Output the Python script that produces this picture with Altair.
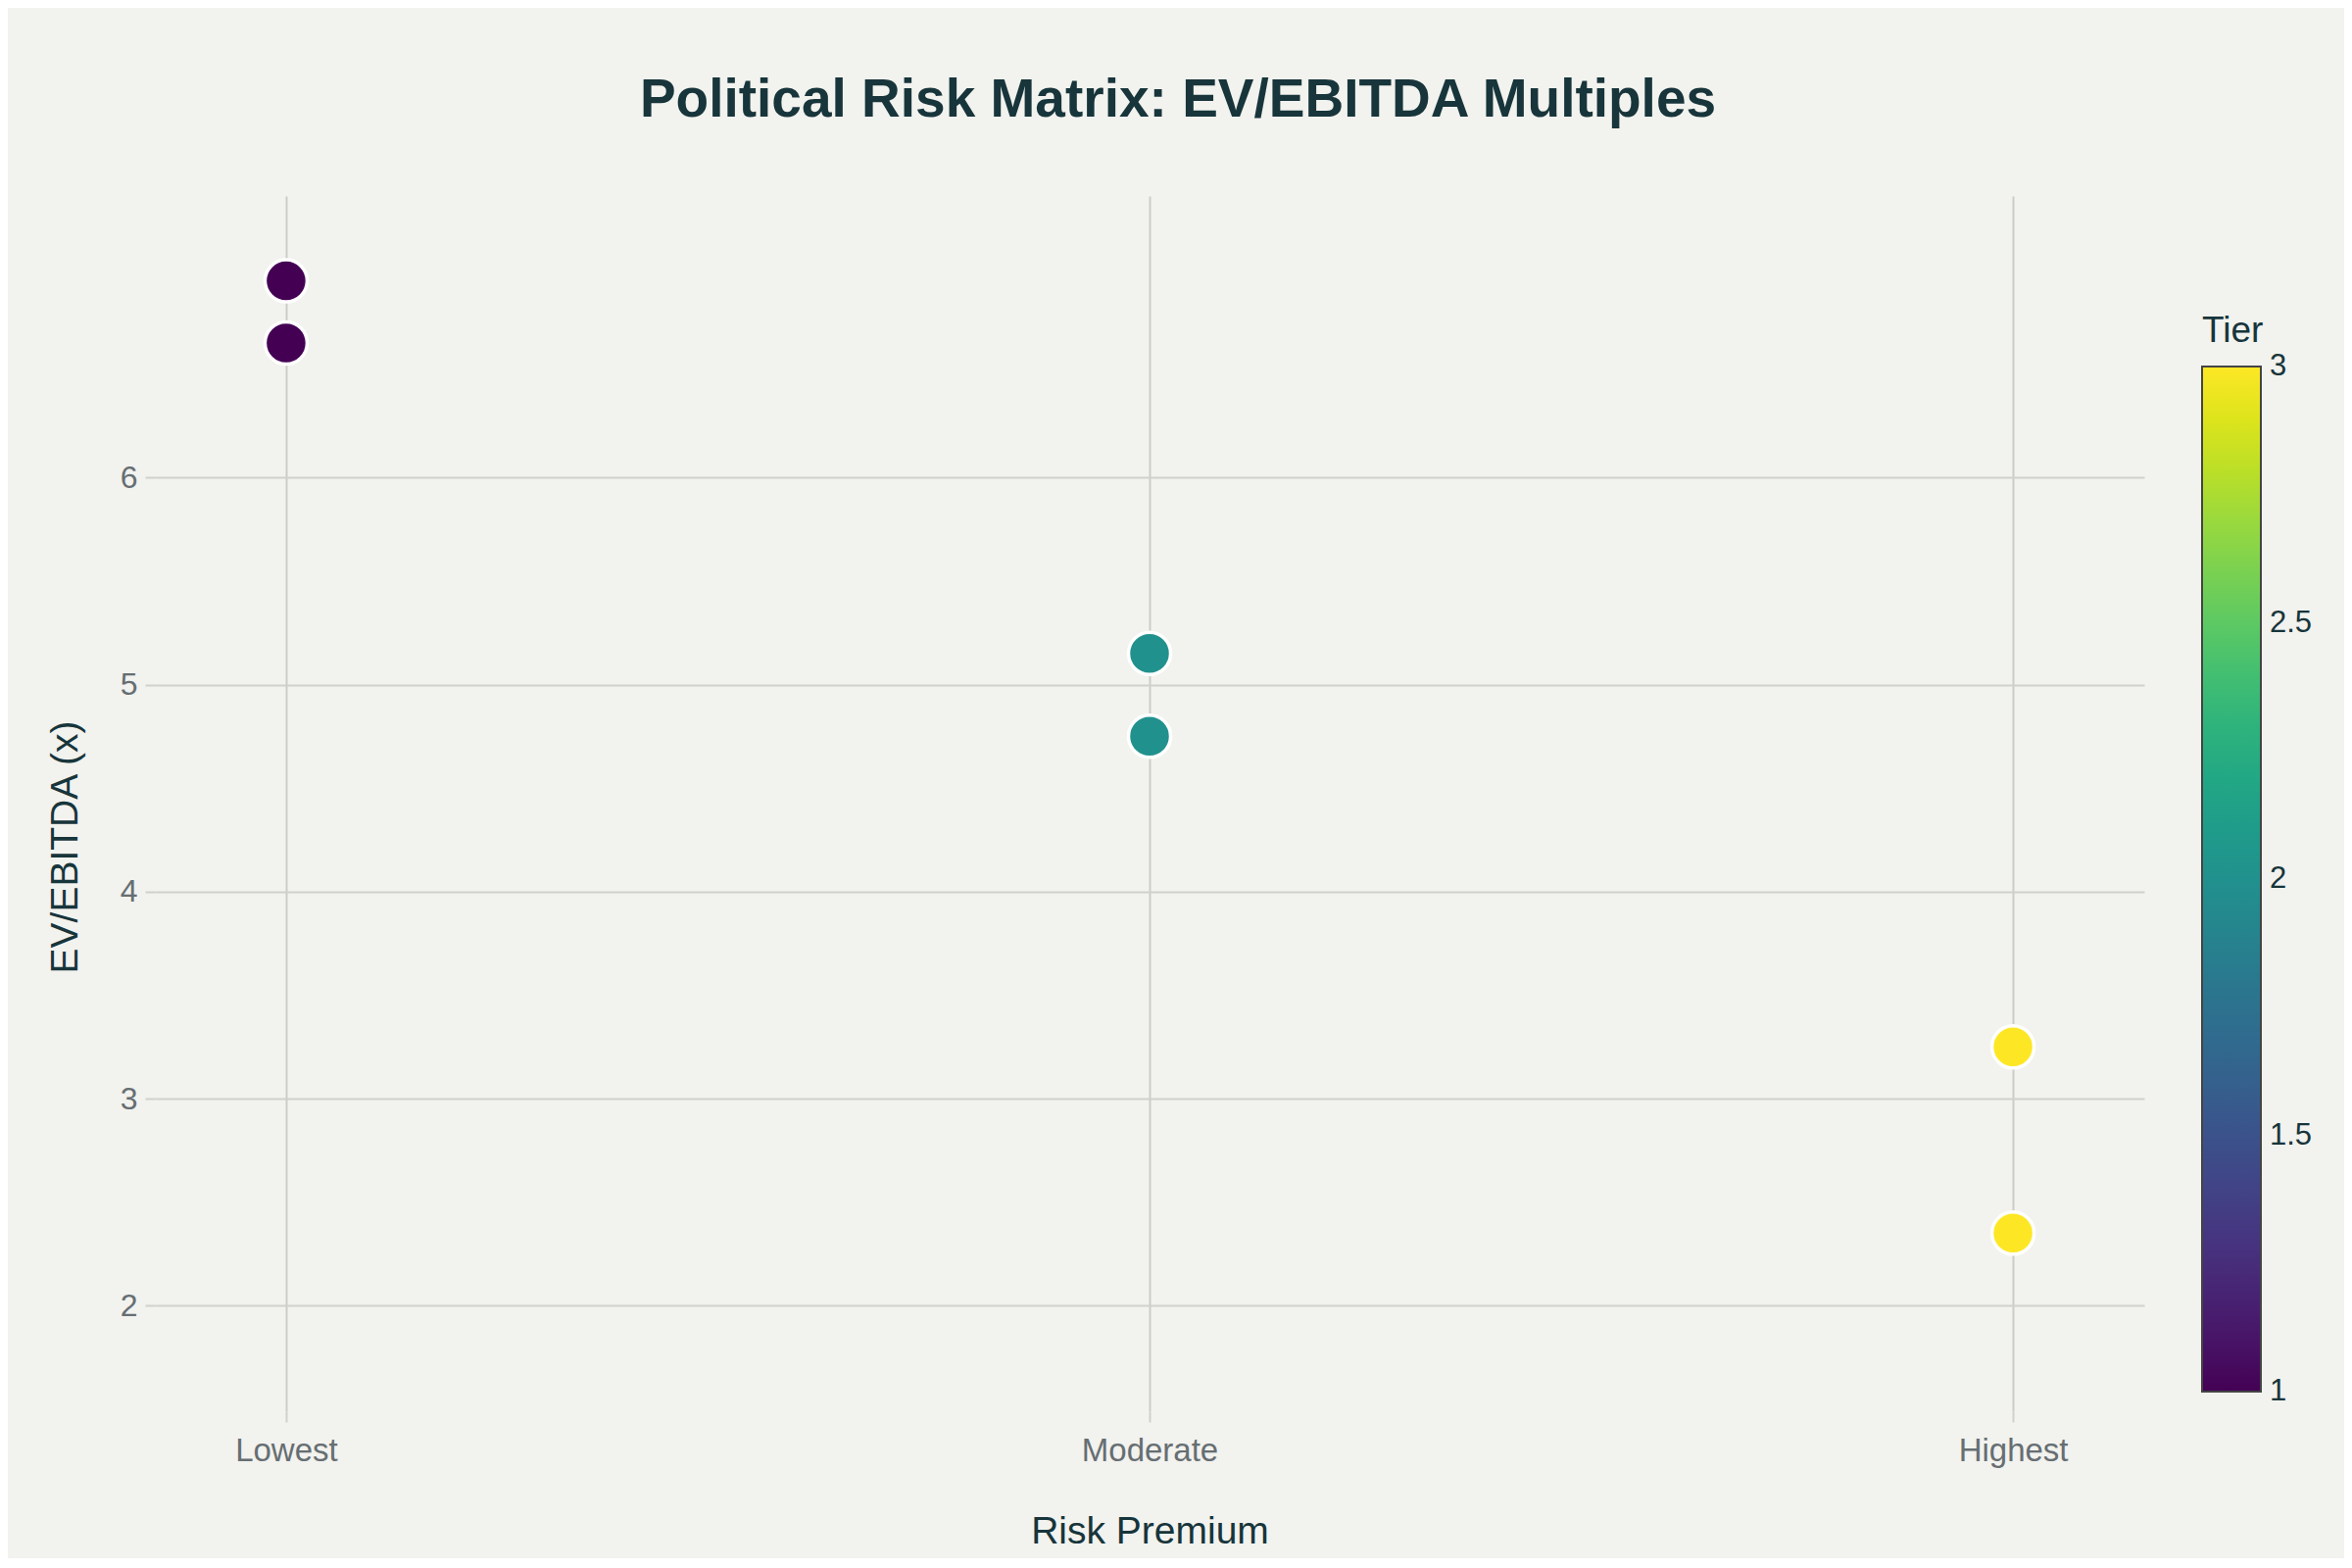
import altair as alt
import pandas as pd

# Data
risk_levels = ["Lowest", "Lowest", "Moderate", "Moderate", "Highest", "Highest"]
ev_ebitda = [6.95, 6.65, 5.15, 4.75, 3.25, 2.35]
tiers = [1, 1, 2, 2, 3, 3]
category_order = ["Lowest", "Moderate", "Highest"]
y_ticks = [2, 3, 4, 5, 6]
# end values nudged a hair inside the bar so their labels centre on the ends
tier_ticks = [1.0001, 1.5, 2, 2.5, 2.9999]

df = pd.DataFrame({"Risk Premium": risk_levels, "EV/EBITDA": ev_ebitda, "Tier": tiers})

FONT = "Liberation Sans"
DARK = "#17353b"
GREY = "#666e72"
BG = "#f2f2ee"

chart = (
    alt.Chart(df)
    .mark_circle(opacity=1, stroke="white", strokeWidth=3.5, size=1850)
    .encode(
        x=alt.X(
            "Risk Premium:N",
            sort=category_order,
            scale=alt.Scale(type="point", padding=0.152),
            axis=alt.Axis(
                title="Risk Premium",
                labelAngle=0,
                labelFont=FONT,
                labelFontSize=33,
                labelColor=GREY,
                labelPadding=13,
                tickSize=11,
                tickColor="#d0d0cc",
                tickWidth=2,
                domain=False,
                grid=True,
                gridColor="#cbcbc7",
                gridWidth=2,
                titleFont=FONT,
                titleFontSize=39,
                titleFontWeight="normal",
                titleColor=DARK,
                titleBaseline="alphabetic",
                titleY=134,
            ),
        ),
        y=alt.Y(
            "EV/EBITDA:Q",
            scale=alt.Scale(domain=[1.49, 7.36], nice=False, zero=False),
            axis=alt.Axis(
                title="EV/EBITDA (x)",
                values=y_ticks,
                labelFont=FONT,
                labelFontSize=32,
                labelColor=GREY,
                labelPadding=8,
                tickSize=10,
                tickColor="#d0d0cc",
                tickWidth=2,
                domain=False,
                grid=True,
                gridColor="#d0d0cc",
                gridWidth=2,
                titleFont=FONT,
                titleFontSize=39,
                titleFontWeight="normal",
                titleColor=DARK,
                titleAngle=-90,
                titleAlign="center",
                titleBaseline="middle",
                titleX=-92,
                titleY=664,
            ),
        ),
        color=alt.Color(
            "Tier:Q",
            scale=alt.Scale(scheme="viridis", domain=[1, 3]),
            legend=alt.Legend(
                title="Tier",
                orient="none",
                legendX=2089,
                legendY=120,
                direction="vertical",
                gradientLength=1046,
                gradientThickness=60,
                gradientStrokeColor="#444444",
                gradientStrokeWidth=2,
                values=tier_ticks,
                labelExpr="format(round(datum.value * 2) / 2, '~g')",
                labelFont=FONT,
                labelFontSize=31,
                labelColor=DARK,
                labelOffset=9,
                labelBaseline="middle",
                titleFont=FONT,
                titleFontSize=37,
                titleFontWeight="normal",
                titleColor=DARK,
                titlePadding=17,
                padding=0,
            ),
        ),
    )
    .properties(
        width=2030,
        height=1240,
        background=BG,
        padding={"left": 150, "top": 192, "right": 204, "bottom": 150},
        autosize=alt.AutoSizeParams(type="none"),
        title=alt.TitleParams(
            text="Political Risk Matrix: EV/EBITDA Multiples",
            font=FONT,
            fontSize=55,
            fontWeight="bold",
            color=DARK,
            anchor="middle",
            dx=29,
            offset=69,
        ),
    )
    .configure_view(stroke=None, fill=BG)
)

chart.save("out.html", embed_options={"renderer": "svg", "actions": False})
